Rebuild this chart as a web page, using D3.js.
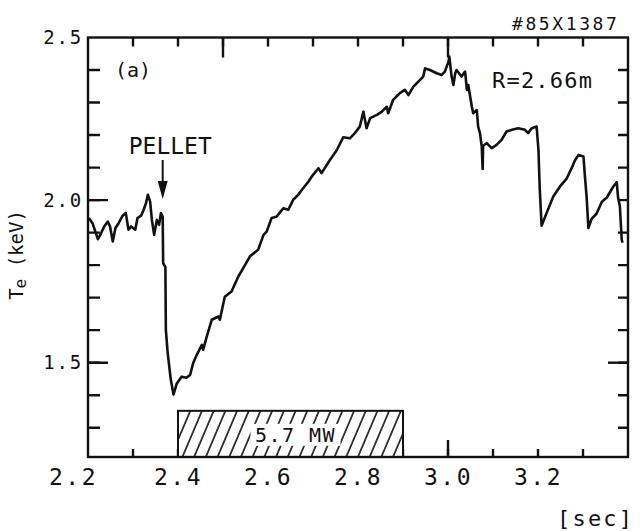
<!DOCTYPE html>
<html>
<head>
<meta charset="utf-8">
<script src="https://cdn.jsdelivr.net/npm/d3@7"></script>
<style>
  html, body { margin: 0; padding: 0; background: #fff; }
  svg { display: block; }
  text { font-family: "DejaVu Sans Mono", "Liberation Mono", monospace; fill: #111; }
</style>
</head>
<body>
<svg id="chart" width="640" height="531"></svg>
<script>
// Electron temperature trace, shot #85X1387, R = 2.66 m
const timeSec = [
  2.202, 2.210, 2.222, 2.229, 2.236, 2.244, 2.249, 2.255, 2.261, 2.268,
  2.277, 2.284, 2.290, 2.296, 2.305, 2.310, 2.318, 2.323, 2.329, 2.333,
  2.338, 2.342, 2.347, 2.353, 2.358, 2.362, 2.366, 2.367, 2.372, 2.373,
  2.377, 2.384, 2.390, 2.397, 2.408, 2.419, 2.427, 2.434, 2.442, 2.453,
  2.456, 2.464, 2.475, 2.490, 2.493, 2.504, 2.519, 2.534, 2.545, 2.560,
  2.578, 2.590, 2.597, 2.608, 2.619, 2.634, 2.645, 2.656, 2.667, 2.675,
  2.690, 2.697, 2.712, 2.719, 2.738, 2.753, 2.767, 2.782, 2.793, 2.804,
  2.812, 2.819, 2.827, 2.842, 2.853, 2.864, 2.867, 2.878, 2.893, 2.904,
  2.912, 2.923, 2.934, 2.945, 2.949, 2.960, 2.975, 2.986, 2.993, 3.001,
  3.003, 3.008, 3.012, 3.016, 3.019, 3.030, 3.038, 3.042, 3.045, 3.053,
  3.056, 3.064, 3.067, 3.071, 3.075, 3.077, 3.078, 3.086, 3.097, 3.108,
  3.119, 3.130, 3.142, 3.156, 3.171, 3.178, 3.186, 3.197, 3.201, 3.204,
  3.208, 3.219, 3.234, 3.249, 3.264, 3.275, 3.282, 3.290, 3.301, 3.304,
  3.308, 3.312, 3.319, 3.330, 3.342, 3.353, 3.367, 3.375, 3.378, 3.382,
  3.386, 3.388
];
const teKeV = [
  1.945, 1.929, 1.880, 1.898, 1.919, 1.934, 1.919, 1.873, 1.914, 1.929,
  1.952, 1.960, 1.909, 1.919, 1.909, 1.945, 1.952, 1.968, 1.991, 2.016,
  1.996, 1.939, 1.893, 1.939, 1.924, 1.960, 1.949, 1.806, 1.794, 1.601,
  1.531, 1.448, 1.402, 1.435, 1.457, 1.454, 1.463, 1.500, 1.525, 1.555,
  1.540, 1.581, 1.632, 1.642, 1.632, 1.703, 1.719, 1.765, 1.791, 1.827,
  1.847, 1.893, 1.903, 1.945, 1.949, 1.975, 1.970, 2.001, 2.016, 2.031,
  2.057, 2.072, 2.098, 2.083, 2.124, 2.154, 2.193, 2.190, 2.206, 2.226,
  2.272, 2.221, 2.252, 2.262, 2.272, 2.287, 2.267, 2.308, 2.329, 2.339,
  2.323, 2.349, 2.364, 2.380, 2.405, 2.400, 2.390, 2.385, 2.395, 2.425,
  2.441, 2.380, 2.354, 2.390, 2.400, 2.380, 2.395, 2.339, 2.354, 2.287,
  2.267, 2.277, 2.226, 2.206, 2.165, 2.096, 2.167, 2.175, 2.160, 2.170,
  2.185, 2.211, 2.216, 2.221, 2.216, 2.206, 2.221, 2.226, 2.154, 2.031,
  1.921, 1.960, 2.011, 2.042, 2.067, 2.099, 2.122, 2.139, 2.134, 2.078,
  2.011, 1.914, 1.942, 1.958, 1.995, 2.008, 2.041, 2.055, 2.007, 1.980,
  1.878, 1.869
];

// Axis ticks
const xTickLabels = [2.2, 2.4, 2.6, 2.8, 3.0, 3.2];
const xMinorTicks = [2.3, 2.4, 2.5, 2.6, 2.7, 2.8, 2.9, 3.0, 3.1, 3.2, 3.3];
const xMajorTicks = [2.5, 3.0];
const yTickLabels = [1.5, 2.0, 2.5];
const yMinorTicks = [1.3, 1.4, 1.5, 1.6, 1.7, 1.8, 1.9, 2.0, 2.1, 2.2, 2.3, 2.4];
const yMajorTicks = [1.5, 2.0];
const yRightMajorTicks = [1.5];

// Annotations
const pelletTime = 2.366;
const nbiWindow = [2.4, 2.9];
const nbiLabel = "5.7 MW";
const shotLabel = "#85X1387";
const radiusLabel = "R=2.66m";

const svg = d3.select("#chart");
const plotLeft = 88, plotRight = 628, plotTop = 37.5, plotBottom = 457;
const ink = "#111";

const x = d3.scaleLinear().domain([2.2, 3.4]).range([plotLeft, plotRight]);
const y = d3.scaleLinear().domain([1.21, 2.5]).range([plotBottom, plotTop]);

// hatch pattern for the heating window
const defs = svg.append("defs");
defs.append("pattern")
  .attr("id", "hatch")
  .attr("patternUnits", "userSpaceOnUse")
  .attr("width", 11.7).attr("height", 60)
  .attr("patternTransform", "skewX(-23)")
  .append("path")
  .attr("d", "M2,-5V65")
  .attr("stroke", ink).attr("stroke-width", 1.7);

// inward ticks on all four sides, each set drawn as one path
function vTicks(values, x0, len) {
  svg.append("path")
    .attr("d", values.map(v => `M${x0},${y(v)}h${len}`).join(""))
    .attr("fill", "none").attr("stroke", ink).attr("stroke-width", 2.4);
}
function hTicks(values, y0, len) {
  svg.append("path")
    .attr("d", values.map(v => `M${x(v)},${y0}v${len}`).join(""))
    .attr("fill", "none").attr("stroke", ink).attr("stroke-width", 2.4);
}
vTicks(yMinorTicks, plotLeft, 12);
vTicks(yMajorTicks, plotLeft, 20);
vTicks(yMinorTicks, plotRight, -10);
vTicks(yRightMajorTicks, plotRight, -20);
hTicks(xMinorTicks, plotTop, 9);
hTicks(xMajorTicks, plotTop, 20);
hTicks(xMinorTicks, plotBottom, -8);
hTicks(xMajorTicks, plotBottom, -17);

// heating window box
const boxTop = y(1.352);
svg.append("rect")
  .attr("x", x(nbiWindow[0])).attr("y", boxTop)
  .attr("width", x(nbiWindow[1]) - x(nbiWindow[0]))
  .attr("height", plotBottom - boxTop)
  .attr("fill", "#fff");
svg.append("rect")
  .attr("x", x(nbiWindow[0])).attr("y", boxTop)
  .attr("width", x(nbiWindow[1]) - x(nbiWindow[0]))
  .attr("height", plotBottom - boxTop)
  .attr("fill", "url(#hatch)")
  .attr("stroke", ink).attr("stroke-width", 2);
const nbiMid = (x(nbiWindow[0]) + x(nbiWindow[1])) / 2 + 5;
svg.append("rect")
  .attr("x", nbiMid - 45).attr("y", boxTop + 13)
  .attr("width", 90).attr("height", 22)
  .attr("fill", "#fff");
svg.append("text")
  .attr("x", nbiMid).attr("y", boxTop + 31)
  .attr("text-anchor", "middle")
  .attr("font-size", 20).attr("letter-spacing", 1.5)
  .text(nbiLabel);

// frame
svg.append("rect")
  .attr("x", plotLeft).attr("y", plotTop)
  .attr("width", plotRight - plotLeft).attr("height", plotBottom - plotTop)
  .attr("fill", "none").attr("stroke", ink).attr("stroke-width", 2.4);

// tick labels
const yl = svg.append("g")
  .attr("transform", `translate(${plotLeft},0)`)
  .call(d3.axisLeft(y).tickValues(yTickLabels).tickSize(0).tickPadding(5).tickFormat(d3.format(".1f")));
yl.select(".domain").remove();
yl.selectAll("text")
  .attr("font-family", "DejaVu Sans Mono").attr("font-size", 19)
  .attr("letter-spacing", 1.8).attr("fill", ink);

const xl = svg.append("g")
  .attr("transform", `translate(0,${plotBottom})`)
  .call(d3.axisBottom(x).tickValues(xTickLabels).tickSize(0).tickPadding(12).tickFormat(d3.format(".1f")));
xl.select(".domain").remove();
xl.selectAll("text")
  .attr("font-family", "DejaVu Sans Mono").attr("font-size", 23)
  .attr("letter-spacing", 2.5).attr("fill", ink)
  .attr("dx", d => d === 2.2 ? -15 : 0);

// temperature trace
svg.append("path")
  .datum(d3.zip(timeSec, teKeV))
  .attr("fill", "none")
  .attr("stroke", ink)
  .attr("stroke-width", 2.6)
  .attr("stroke-linejoin", "round")
  .attr("d", d3.line().x(d => x(d[0])).y(d => y(d[1])));

// pellet marker
const px = x(pelletTime);
svg.append("text")
  .attr("x", px - 34).attr("y", 154)
  .attr("font-size", 23)
  .text("PELLET");
svg.append("path")
  .attr("d", `M${px},160V186`)
  .attr("stroke", ink).attr("stroke-width", 2);
svg.append("path")
  .attr("d", `M${px - 5},181 L${px + 5},181 L${px},199 Z`)
  .attr("fill", ink);

// labels
svg.append("text").attr("x", 115).attr("y", 77)
  .attr("font-size", 20).text("(a)");
svg.append("text").attr("x", 492).attr("y", 88)
  .attr("font-size", 22).attr("letter-spacing", 1.2).text(radiusLabel);
svg.append("text").attr("x", 512).attr("y", 30)
  .attr("font-size", 18).attr("letter-spacing", 2.6).text(shotLabel);
svg.append("text").attr("x", 557).attr("y", 526)
  .attr("font-size", 22).attr("letter-spacing", 2.2).text("[sec]");

const yt = svg.append("text")
  .attr("transform", "translate(23,255) rotate(-90)")
  .attr("text-anchor", "middle")
  .attr("font-size", 19);
yt.append("tspan").text("T");
yt.append("tspan").attr("font-size", 16).attr("dy", 3).text("e");
yt.append("tspan").attr("dy", -3).text(" (keV)");
</script>
</body>
</html>
